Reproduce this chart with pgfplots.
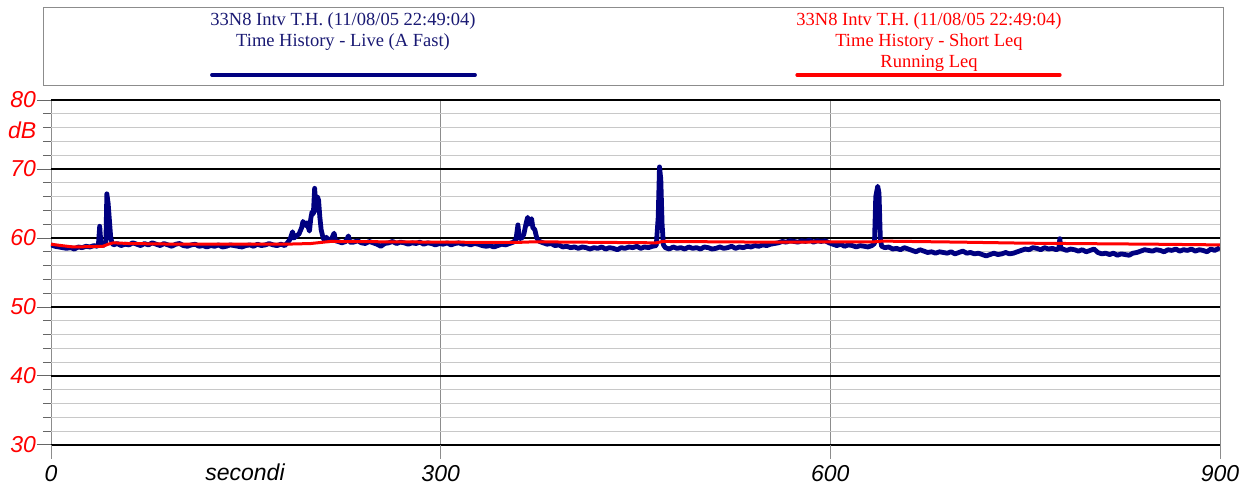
\documentclass[border=0pt]{standalone}
\usepackage{pgfplots}
\pgfplotsset{compat=1.18}
\usepackage{fontspec}
\setmainfont{Liberation Serif}
\newfontfamily\arialf{Liberation Sans}
\definecolor{navyline}{RGB}{0,0,128}
\definecolor{legnavy}{RGB}{25,25,115}
\definecolor{gridgray}{RGB}{200,200,200}
\definecolor{vgray}{RGB}{140,140,140}

\begin{document}
\begin{tikzpicture}
\path[use as bounding box] (-51pt,-42pt) rectangle (1199pt,445pt);
\begin{axis}[
  at={(0pt,0pt)}, anchor=south west,
  scale only axis, width=1169pt, height=345pt,
  xmin=0, xmax=900, ymin=30, ymax=80,
  axis line style={draw=none},
  xtick={0,300,600,900},
  xticklabels={0,300,600,900},
  ytick={30,40,...,80},
  yticklabels={30,40,50,60,70,80},
  minor ytick={32,34,...,78},
  xtick pos=bottom, ytick pos=left,
  grid=both,
  major x grid style={vgray, line width=0.9pt},
  major y grid style={black, line width=1.8pt},
  minor y grid style={gridgray, line width=1.3pt},
  tick align=outside,
  major tick length=14pt,
  minor tick length=8pt,
  xtick style={vgray, line width=0.9pt},
  ytick style={black!60, line width=1pt},
  minor tick style={black!60, line width=1pt},
  tick label style={font=\arialf\itshape\fontsize{23}{23}\selectfont},
  yticklabel style={red, xshift=2.5pt},
  xticklabel style={black, yshift=-2.5pt},
]
\addplot[navyline, line width=4.8pt, line join=round] coordinates {
(0,59.0) (3,58.8) (6,58.7) (9,58.6) (12,58.5) (15,58.6) (18,58.4) (21,58.7) (24,58.6) (27,58.8)
(30,58.7) (33,58.9) (35.5,58.8) (36.5,59.0) (37.5,61.7) (38.5,59.0) (40,58.9) (41.5,59.1) (42.3,59.6)
(43,66.4) (44,65.0) (45,62.5) (46,60.0) (47,59.3) (48,59.0) (51,59.2) (54,58.9) (57,59.1) (60,59.0)
(63,59.3) (66,59.1) (69,58.9) (72,59.2) (75,59.0) (78,59.3) (81,59.1) (84,58.9) (87,59.2) (90,59.0)
(93,58.8) (96,59.1) (99,59.2) (102,58.9) (105,58.8) (108,59.0) (111,59.1) (114,58.8) (117,58.9)
(120,58.7) (123,58.9) (126,58.8) (129,59.0) (132,58.7) (135,58.8) (138,59.0) (141,58.9) (144,58.8)
(147,58.7) (150,58.9) (153,59.0) (156,58.8) (159,59.1) (162,58.9) (165,59.0) (168,59.2) (171,59.0)
(174,58.9) (177,59.1) (180,58.9) (182,59.3) (184,59.8) (186,60.9) (187,60.0) (189,60.3) (191,60.6)
(193,61.5) (194,62.4) (196,61.8) (197,62.2) (199,61.0) (200,62.8) (201,63.8) (202,63.5) (203,67.2)
(204,64.0) (205,66.0) (206,65.5) (207,63.0) (208,61.2) (209,60.4) (210,59.8) (212,60.1) (214,59.6)
(216,59.9) (218,60.7) (219,59.6) (221,59.5) (224,59.3) (227,59.5) (229,60.3) (230,59.4) (233,59.4)
(236,59.6) (239,59.3) (242,59.2) (245,59.5) (248,59.3) (251,59.1) (254,58.8) (257,59.2) (260,59.3)
(263,59.5) (266,59.2) (269,59.4) (272,59.3) (275,59.1) (278,59.3) (281,59.2) (284,59.4) (287,59.1)
(290,59.3) (293,59.2) (296,59.0) (299,59.2) (302,59.1) (305,59.3) (308,59.0) (311,59.2) (314,59.3)
(317,59.1) (320,59.2) (323,59.0) (326,59.2) (329,59.1) (332,58.9) (335,58.8) (338,58.9) (341,58.7)
(344,58.9) (347,59.1) (350,59.0) (353,59.2) (356,59.4) (358,59.8) (359.5,61.9) (360.5,60.0)
(362,59.9) (364,60.5) (366,62.3) (367,63.0) (368,62.0) (370,62.8) (371,61.5) (372.5,61.2) (374,60.0)
(376,59.5) (379,59.3) (382,59.1) (385,59.2) (388,58.9) (391,59.0) (394,58.7) (397,58.8) (400,58.6)
(403,58.7) (406,58.5) (409,58.7) (412,58.6) (415,58.4) (418,58.6) (421,58.5) (424,58.7) (427,58.4)
(430,58.6) (433,58.5) (436,58.3) (439,58.6) (442,58.5) (445,58.7) (448,58.6) (451,58.8) (454,58.5)
(457,58.7) (460,58.6) (463,58.8) (466,58.9) (467.5,63.0) (468.5,70.3) (469.5,68.5) (470.5,62.0)
(471.5,59.0) (473,58.6) (476,58.4) (479,58.7) (482,58.5) (485,58.6) (488,58.4) (491,58.7) (494,58.5)
(497,58.6) (500,58.4) (503,58.7) (506,58.6) (509,58.4) (512,58.5) (515,58.7) (518,58.5) (521,58.6)
(524,58.8) (527,58.5) (530,58.7) (533,58.6) (536,58.8) (539,58.7) (542,58.9) (545,58.8) (548,59.0)
(551,58.9) (554,59.1) (557,59.2) (560,59.3) (563,59.5) (566,59.4) (569,59.6) (572,59.5) (575,59.4)
(578,59.6) (581,59.5) (584,59.7) (587,59.4) (590,59.6) (593,59.5) (596,59.6) (599,59.3) (602,59.1)
(605,58.9) (608,59.1) (611,58.8) (614,59.0) (617,58.9) (620,58.7) (623,58.9) (626,58.8) (629,58.7)
(632,58.9) (634,59.2) (635,66.0) (636.5,67.5) (637.5,66.5) (638.5,60.0) (639.5,58.8) (642,58.6)
(645,58.7) (648,58.4) (651,58.5) (654,58.3) (657,58.6) (660,58.4) (663,58.2) (666,58.0) (669,58.3)
(672,58.1) (675,57.9) (678,58.0) (681,57.8) (684,58.0) (687,57.9) (690,57.8) (693,58.0) (696,57.7)
(699,57.9) (702,58.1) (705,57.8) (708,57.9) (711,57.7) (714,57.8) (717,57.6) (720,57.4) (723,57.6)
(726,57.8) (729,57.6) (732,57.7) (735,57.9) (738,57.7) (741,57.8) (744,58.0) (747,58.2) (750,58.4)
(753,58.3) (756,58.6) (759,58.5) (762,58.3) (765,58.6) (768,58.4) (771,58.5) (774,58.3) (776,58.5)
(776.7,59.9) (777.5,58.5) (779,58.4) (782,58.2) (785,58.4) (788,58.3) (791,58.1) (794,58.3)
(797,58.0) (800,58.2) (803,58.4) (806,57.9) (809,57.7) (812,57.8) (815,57.6) (818,57.8) (821,57.5)
(824,57.7) (827,57.6) (830,57.5) (833,57.8) (836,57.9) (839,58.1) (842,58.3) (845,58.2) (848,58.1)
(851,58.3) (854,58.2) (857,58.0) (860,58.3) (863,58.2) (866,58.4) (869,58.1) (872,58.3) (875,58.2)
(878,58.4) (881,58.1) (884,58.3) (887,58.2) (890,58.0) (893,58.4) (896,58.2) (899,58.5) (900,58.6)
};
\addplot[red, line width=3pt, line join=round] coordinates {
(0,59.1) (8,58.9) (17,58.7) (30,58.75) (40,58.8) (44,59.1) (48,59.3) (60,59.2) (100,59.1)
(180,59.1) (200,59.2) (215,59.5) (300,59.4) (358,59.35) (372,59.45) (466,59.3) (471,59.5)
(550,59.4) (634,59.45) (640,59.55) (700,59.4) (750,59.25) (850,59.1) (900,59.0)
};
\end{axis}
% axis unit label and x title
\node[anchor=east, red, font=\arialf\itshape\fontsize{23}{23}\selectfont, inner sep=0pt]
  at (-14.5pt,315pt) {dB};
\node[anchor=base, black, font=\arialf\itshape\fontsize{23}{23}\selectfont, inner sep=0pt]
  at (194pt,-36pt) {secondi};
% legend box
\draw[vgray, line width=0.9pt] (-8pt,360pt) rectangle (1172pt,438pt);
\begin{scope}[every node/.style={anchor=base, inner sep=0pt, font=\fontsize{18.5}{18.5}\selectfont}]
\node[legnavy] at (292pt,419pt) {33N8 Intv T.H. (11/08/05 22:49:04)};
\node[legnavy] at (292pt,398pt) {Time History - Live (A Fast)};
\node[red] at (878pt,419pt) {33N8 Intv T.H. (11/08/05 22:49:04)};
\node[red] at (878pt,398pt) {Time History - Short Leq};
\node[red] at (878pt,377pt) {Running Leq};
\end{scope}
\draw[navyline, line width=3.8pt, line cap=round] (161pt,370pt) -- (424pt,370pt);
\draw[red, line width=3.2pt, line cap=round] (746pt,370pt) -- (1009pt,370pt);
\end{tikzpicture}
\end{document}
